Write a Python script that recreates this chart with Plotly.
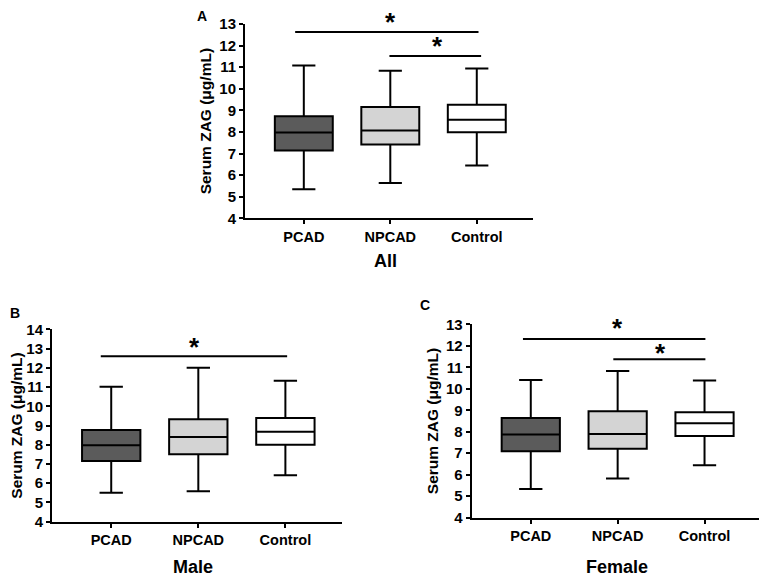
import plotly.graph_objects as go

W, H = 767, 578
OFF = 8  # page body margin in the browser

categories = ["PCAD", "NPCAD", "Control"]
fills = ["#5b5b5b", "#d4d4d4", "#ffffff"]

# Panel A (All)
a_low = [5.35, 5.64, 6.44]
a_q1 = [7.14, 7.42, 7.99]
a_med = [7.97, 8.07, 8.56]
a_q3 = [8.73, 9.16, 9.26]
a_high = [11.08, 10.83, 10.94]

# Panel B (Male)
b_low = [5.51, 5.58, 6.41]
b_q1 = [7.15, 7.50, 8.00]
b_med = [7.97, 8.40, 8.68]
b_q3 = [8.77, 9.32, 9.39]
b_high = [11.02, 12.00, 11.33]

# Panel C (Female)
c_low = [5.34, 5.83, 6.44]
c_q1 = [7.09, 7.21, 7.80]
c_med = [7.87, 7.90, 8.39]
c_q3 = [8.64, 8.95, 8.91]
c_high = [10.41, 10.83, 10.38]

# significance brackets: (x0, x1, y, star_x, star gap px)
a_sig = [(-0.1, 2.02, 12.63, 1.0, 13), (0.99, 2.05, 11.52, 1.54, 13)]
b_sig = [(-0.12, 2.02, 12.6, 0.96, 13)]
c_sig = [(-0.09, 2.01, 12.32, 1.0, 14), (0.95, 2.01, 11.37, 1.49, 10)]

y_ranges = [(4, 13), (4, 14), (4, 13)]
panel_titles = ["All", "Male", "Female"]
panel_letters = ["A", "B", "C"]

# plot area pixel boxes (x0, x1, ytop, ybottom) in screenshot pixels
boxes_px = [(245, 533, 24, 218.3), (52, 342, 329.3, 521.7), (471.7, 761, 324.3, 517.7)]
title_pos = [(385, 261), (193, 567), (617, 567)]
letter_pos = [(202, 16), (15, 313), (425, 305)]

FONT = "Liberation Sans, Arial, sans-serif"
STAR_SIZE = 26


def px(x):
    return (x - OFF) / W


def py(y):
    return 1 - (y - OFF) / H


fig = go.Figure()
panels = [
    (a_low, a_q1, a_med, a_q3, a_high, a_sig),
    (b_low, b_q1, b_med, b_q3, b_high, b_sig),
    (c_low, c_q1, c_med, c_q3, c_high, c_sig),
]

shapes = []
annotations = []
for p, (lo, q1, med, q3, hi, sig) in enumerate(panels):
    xa = "x" if p == 0 else f"x{p+1}"
    ya = "y" if p == 0 else f"y{p+1}"
    for i, cat in enumerate(categories):
        fig.add_trace(go.Box(
            x=[cat], lowerfence=[lo[i]], q1=[q1[i]], median=[med[i]],
            q3=[q3[i]], upperfence=[hi[i]],
            fillcolor=fills[i], line=dict(color="black", width=2),
            whiskerwidth=0.4, width=0.67, boxpoints=False,
            xaxis=xa, yaxis=ya, showlegend=False, hoverinfo="skip",
        ))
    for (x0, x1, y, sx, gap) in sig:
        shapes.append(dict(type="line", xref=xa, yref=ya, x0=x0, x1=x1, y0=y, y1=y,
                           line=dict(color="black", width=2)))
        annotations.append(dict(xref=xa, yref=ya, x=sx, y=y, text="<b>*</b>",
                                showarrow=False,
                                font=dict(size=STAR_SIZE, family=FONT, color="black"),
                                yanchor="middle", xanchor="center",
                                yshift=gap - 3.5))

layout = dict(width=W, height=H, margin=dict(l=0, r=0, t=0, b=0, autoexpand=False),
              paper_bgcolor="white", plot_bgcolor="white", boxmode="overlay",
              font=dict(family=FONT, color="black"))

for p in range(3):
    x0, x1, yt, yb = boxes_px[p]
    sfx = "" if p == 0 else str(p + 1)
    layout["xaxis" + sfx] = dict(
        domain=[px(x0), px(x1)], anchor="y" + sfx, range=[-0.68, 2.65],
        type="category", categoryorder="array", categoryarray=categories,
        showline=True, linecolor="black", linewidth=2, ticks="outside",
        ticklen=4, tickwidth=2, tickcolor="black", showgrid=False, zeroline=False,
        tickfont=dict(size=14.5, family=FONT, color="black", weight="bold"),
        automargin=False, fixedrange=True,
    )
    layout["yaxis" + sfx] = dict(
        domain=[py(yb), py(yt)], anchor="x" + sfx, range=list(y_ranges[p]),
        dtick=1, showline=True, linecolor="black", linewidth=2, ticks="outside",
        ticklen=4, tickwidth=2, tickcolor="black", showgrid=False, zeroline=False,
        tickfont=dict(size=15, family=FONT, color="black", weight="bold"),
        title=dict(text="<b>Serum ZAG (μg/mL)</b>",
                   font=dict(size=15.5, family=FONT, color="black"), standoff=4),
        automargin=False, fixedrange=True,
    )
    tx, ty = title_pos[p]
    annotations.append(dict(xref="paper", yref="paper", x=px(tx), y=py(ty),
                            text=f"<b>{panel_titles[p]}</b>", showarrow=False,
                            font=dict(size=18, family=FONT, color="black"),
                            xanchor="center", yanchor="middle"))
    lx, ly = letter_pos[p]
    annotations.append(dict(xref="paper", yref="paper", x=px(lx), y=py(ly),
                            text=f"<b>{panel_letters[p]}</b>", showarrow=False,
                            font=dict(size=14, family=FONT, color="black"),
                            xanchor="center", yanchor="middle"))

layout["shapes"] = shapes
layout["annotations"] = annotations
fig.update_layout(**layout)
fig.write_html("out.html")
